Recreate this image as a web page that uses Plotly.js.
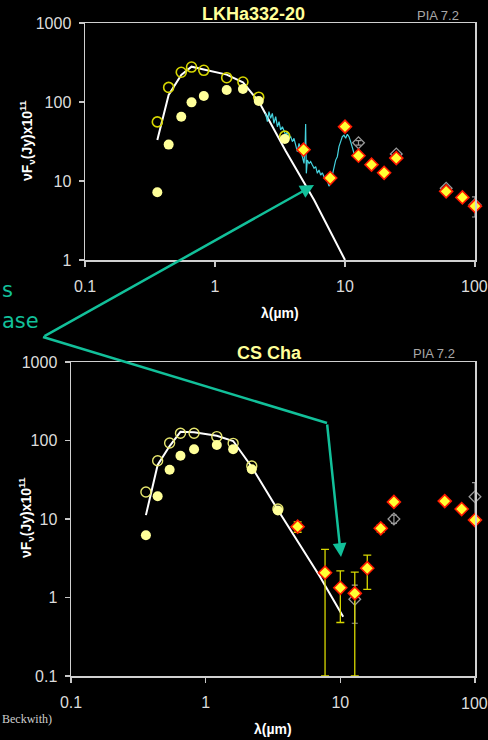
<!DOCTYPE html>
<html>
<head>
<meta charset="utf-8">
<script src="https://cdn.plot.ly/plotly-3.0.1.min.js"></script>
<style>html,body{margin:0;padding:0;background:#000;}#chart{width:488px;height:740px;}</style>
</head>
<body>
<div id="chart"></div>
<script>
// ---------- Top panel: LKHa332-20 ----------
const topOpenLam = [0.36, 0.44, 0.55, 0.66, 0.82, 1.23, 1.64, 2.17, 3.44];
const topOpenF   = [56, 153, 238, 277, 252, 203, 179, 115, 37];
const topFillF   = [7.2, 28.9, 65, 99, 119, 142, 146, 103, 34];
const topModelLam = [0.36, 0.44, 0.55, 0.66, 0.82, 1.23, 1.64, 2.2, 3.5, 5.8, 10];
const topModelF   = [33, 123, 220, 280, 258, 222, 178, 98, 24, 5.7, 1.0];
const topDiaLam = [4.8, 7.7, 10, 12.7, 16, 20, 24.8, 60, 80, 100];
const topDiaF   = [24.9, 10.9, 48.7, 20.9, 16.1, 12.7, 19.5, 7.4, 6.2, 4.8];
const topIrasLam = [12.7, 24.8, 60, 100];
const topIrasF   = [30.5, 22, 8.1, 5.0];
const topIrasErrP = [2, 0, 0, 1.3];
const topIrasErrM = [2, 0, 0, 1.5];
const specLam = [2.45,2.53,2.60,2.68,2.76,2.84,2.93,3.02,3.11,3.20,3.30,3.50,3.60,3.71,3.82,3.94,4.05,4.17,4.30,4.43,4.56,4.70,4.84,4.93,4.98,5.04,5.13,5.29,5.44,5.61,5.78,5.95,6.13,6.31,6.50,6.69,6.90,7.10,7.31,7.53,7.76,7.99,8.23,8.48,8.73,8.99,9.26,9.54,9.82,10.12,10.42,10.73,11.05,11.39,11.73,11.94];
const specF   = [71.9,56.4,75.4,62.1,71.9,53.7,65.2,48.7,56.4,44.2,48.7,38,42.1,34.7,36.4,31.5,34.7,27.2,23.5,30,24.7,20.3,16.7,27.2,52.7,12.5,18.4,16.7,17.6,15.9,14.5,15.2,12.5,13.8,11.9,12.7,11.3,10.8,10.3,8.6,9.8,11.9,15.2,18.4,20.3,27.2,31.5,36.4,38,34.7,39,36.4,31.5,27.2,22.4,20.3];

// ---------- Bottom panel: CS Cha ----------
const botOpenLam = [0.36, 0.44, 0.54, 0.65, 0.82, 1.21, 1.6, 2.2, 3.44];
const botOpenF   = [22.1, 55.3, 92.9, 123.6, 123.6, 112, 92, 47.3, 13.4];
const botFillF   = [6.2, 19.5, 42.5, 64, 77.3, 87.7, 77.3, 43, 12.8];
const botModelLam = [0.36, 0.44, 0.54, 0.65, 0.82, 1.21, 1.6, 2.2, 3.44, 7.06, 10.5];
const botModelF   = [11.2, 48.8, 85, 129, 127, 115, 98.6, 46, 13, 1.84, 0.57];
const botDiaLam = [4.82, 7.7, 10, 12.8, 15.85, 19.95, 25, 59.6, 79.6, 100];
const botDiaF   = [7.98, 2.07, 1.33, 1.13, 2.36, 7.6, 16.5, 16.9, 13.4, 9.7];
const botDiaErrP = [1.2, 2.03, 0.85, 0.98, 1.11, 0.8, 0, 0, 0, 0];
const botDiaErrM = [1.2, 1.97, 0.85, 1.03, 1.09, 0.8, 0, 0, 0, 0];
const botIrasLam = [12.8, 25, 100];
const botIrasF   = [0.95, 10, 19.2];
const botIrasErrP = [0.49, 1.2, 9.8];
const botIrasErrM = [0.48, 1.2, 9];

// tick labels
const xTickVals = [0.1, 1, 10, 100];
const xTickText = ['0.1', '1', '10', '100'];
const yTopTickVals = [1, 10, 100, 1000];
const yTopTickText = ['1', '10', '100', '1000'];
const yBotTickVals = [0.1, 1, 10, 100, 1000];
const yBotTickText = ['0.1', '1', '10', '100', '1000'];

const W = 488, H = 740;
const px = v => v / W;
const py = v => 1 - v / H;

const teal = '#12c09a';
const sans = 'Liberation Sans, Arial, sans-serif';
const diaMarker = {symbol: 'diamond', size: 10, color: '#ffff33', line: {color: '#ff1a00', width: 1.6}};
const irasMarker = {symbol: 'diamond-open', size: 9, color: '#9a9a9a', line: {color: '#9a9a9a', width: 1.3}};

const traces = [
  // top
  {x: topModelLam, y: topModelF, xaxis: 'x', yaxis: 'y', mode: 'lines', line: {color: '#ffffff', width: 2}},
  {x: specLam, y: specF, xaxis: 'x', yaxis: 'y', mode: 'lines', line: {color: '#45d3df', width: 1.2}},
  {x: topOpenLam, y: topOpenF, xaxis: 'x', yaxis: 'y', mode: 'markers', marker: {symbol: 'circle-open', size: 10, color: '#d6d600', line: {width: 1.6, color: '#d6d600'}}},
  {x: topOpenLam, y: topFillF, xaxis: 'x', yaxis: 'y', mode: 'markers', marker: {symbol: 'circle', size: 10, color: '#ffff99'}},
  {x: topIrasLam, y: topIrasF, xaxis: 'x', yaxis: 'y', mode: 'markers', marker: irasMarker, cliponaxis: false,
   error_y: {type: 'data', symmetric: false, array: topIrasErrP, arrayminus: topIrasErrM, color: '#9a9a9a', thickness: 1.2, width: 3}},
  {x: topDiaLam, y: topDiaF, xaxis: 'x', yaxis: 'y', mode: 'markers', marker: diaMarker, cliponaxis: false},
  // bottom
  {x: botModelLam, y: botModelF, xaxis: 'x2', yaxis: 'y2', mode: 'lines', line: {color: '#ffffff', width: 2}},
  {x: botOpenLam, y: botOpenF, xaxis: 'x2', yaxis: 'y2', mode: 'markers', marker: {symbol: 'circle-open', size: 10, color: '#e6e66e', line: {width: 1.4, color: '#e6e66e'}}},
  {x: botOpenLam, y: botFillF, xaxis: 'x2', yaxis: 'y2', mode: 'markers', marker: {symbol: 'circle', size: 10, color: '#ffff99'}},
  {x: botIrasLam, y: botIrasF, xaxis: 'x2', yaxis: 'y2', mode: 'markers', marker: irasMarker, cliponaxis: false,
   error_y: {type: 'data', symmetric: false, array: botIrasErrP, arrayminus: botIrasErrM, color: '#9a9a9a', thickness: 1.2, width: 3}},
  {x: botDiaLam, y: botDiaF, xaxis: 'x2', yaxis: 'y2', mode: 'markers', marker: diaMarker, cliponaxis: false,
   error_y: {type: 'data', symmetric: false, array: botDiaErrP, arrayminus: botDiaErrM, color: '#d8d800', thickness: 1.3, width: 4}}
];

const tickFont = {family: sans, size: 16, color: '#dcdcdc'};
const axisCommon = {
  type: 'log', showgrid: false, zeroline: false, showline: true, linecolor: '#d0d0d0', linewidth: 1.5,
  mirror: true, ticks: 'outside', ticklen: 5, tickwidth: 1.2, tickcolor: '#c8c8c8', tickfont: tickFont,
  automargin: false, fixedrange: true
};

function label(xp, yp, text, size, color, extra) {
  return Object.assign({xref: 'paper', yref: 'paper', x: px(xp), y: py(yp), xanchor: 'center', yanchor: 'middle',
    text: text, showarrow: false, font: {family: sans, size: size, color: color}}, extra || {});
}

const layout = {
  width: W, height: H,
  margin: {l: 0, r: 0, t: 0, b: 0, pad: 0},
  paper_bgcolor: '#000000', plot_bgcolor: '#000000',
  showlegend: false,
  xaxis: Object.assign({}, axisCommon, {domain: [px(85), px(475)], range: [-1, 2], anchor: 'y', tickvals: xTickVals, ticktext: xTickText, ticklabelstandoff: 6}),
  yaxis: Object.assign({}, axisCommon, {domain: [py(260), py(23)], range: [0, 3], anchor: 'x', tickvals: yTopTickVals, ticktext: yTopTickText, ticklabelstandoff: 4}),
  xaxis2: Object.assign({}, axisCommon, {domain: [px(71), px(475)], range: [-1, 2], anchor: 'y2', tickvals: xTickVals, ticktext: xTickText, ticklabelstandoff: 6}),
  yaxis2: Object.assign({}, axisCommon, {domain: [py(676), py(362)], range: [-1, 3], anchor: 'x2', tickvals: yBotTickVals, ticktext: yBotTickText, ticklabelstandoff: 4}),
  shapes: [
    {type: 'path', xref: 'paper', yref: 'paper',
     path: 'M ' + px(43) + ',' + py(337) + ' L ' + px(327) + ',' + py(423),
     line: {color: teal, width: 2.5}}
  ],
  annotations: [
    label(253, 14, '<b>LKHa332-20</b>', 18, '#ffff99'),
    label(438, 15, 'PIA 7.2', 13, '#a8a8a8'),
    label(269, 353, '<b>CS Cha</b>', 18, '#ffff99'),
    label(434, 353, 'PIA 7.2', 13, '#a8a8a8'),
    label(27, 141, '<b>νF<sub>ν</sub>(Jy)x10<sup>11</sup></b>', 14, '#ffffff', {textangle: -90}),
    label(26, 518, '<b>νF<sub>ν</sub>(Jy)x10<sup>11</sup></b>', 14, '#ffffff', {textangle: -90}),
    label(280, 313, '<b>λ(µm)</b>', 14, '#ffffff'),
    label(273, 729, '<b>λ(µm)</b>', 14, '#ffffff'),
    label(474, 287, '100', 16, '#dcdcdc'),
    label(474, 703, '100', 16, '#dcdcdc'),
    label(0, 290, 's', 21, teal, {xanchor: 'left', font: {family: 'DejaVu Sans, sans-serif', size: 21, color: teal}}),
    label(0, 321, 'ase', 21, teal, {xanchor: 'left', font: {family: 'DejaVu Sans, sans-serif', size: 21, color: teal}}),
    label(0, 719, 'Beckwith)', 12, '#cfcfcf', {xanchor: 'left', font: {family: 'Liberation Serif, Times New Roman, serif', size: 12, color: '#cfcfcf'}}),
    // arrows
    {xref: 'paper', yref: 'paper', x: px(314), y: py(185), ax: 43 - 314, ay: 337 - 185, text: '',
     showarrow: true, arrowhead: 2, arrowsize: 1.1, arrowwidth: 2.5, arrowcolor: teal},
    {xref: 'paper', yref: 'paper', x: px(341), y: py(557), ax: 327 - 341, ay: 423 - 557, text: '',
     showarrow: true, arrowhead: 2, arrowsize: 1.1, arrowwidth: 2.5, arrowcolor: teal}
  ]
};

Plotly.newPlot('chart', traces, layout, {displayModeBar: false, staticPlot: true});
</script>
</body>
</html>
